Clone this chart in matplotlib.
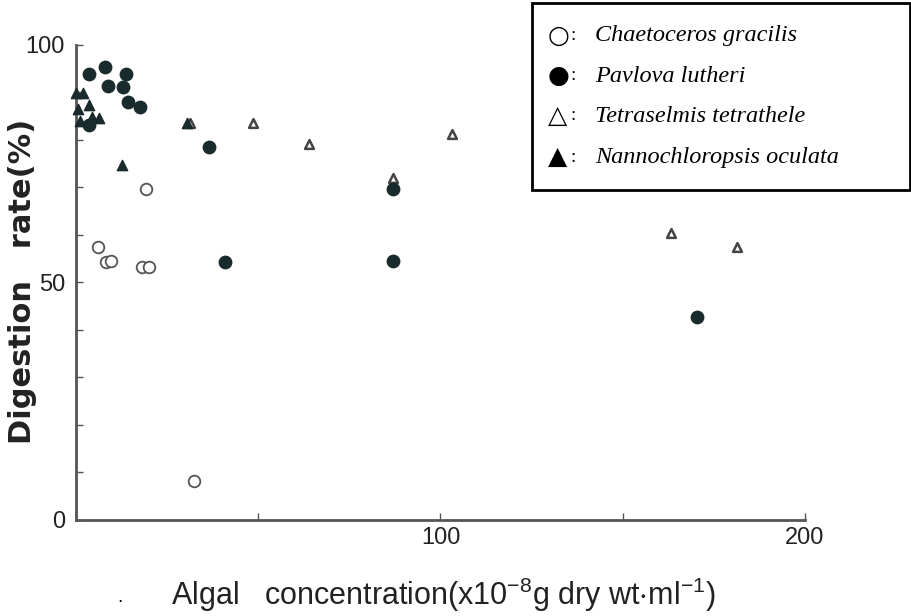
import matplotlib
matplotlib.use("Agg")
import matplotlib.pyplot as plt
from matplotlib.patches import Rectangle

# Chaetoceros gracilis (open circles)
chaeto_x = [19.1, 6.1, 8.2, 9.6, 18.0, 20.0, 32.3]
chaeto_y = [69.7, 57.4, 54.2, 54.5, 53.2, 53.3, 8.2]

# Pavlova lutheri (filled circles)
pavlova_x = [3.6, 8.0, 13.6, 8.9, 12.8, 14.2, 17.6, 3.6, 36.6, 41.0, 86.9, 86.9, 170.5]
pavlova_y = [93.9, 95.3, 93.9, 91.4, 91.2, 88.0, 87.0, 83.2, 78.5, 54.3, 69.6, 54.5, 42.8]

# Tetraselmis tetrathele (open triangles)
tetra_x = [31.3, 48.6, 63.9, 103.2, 86.9, 163.3, 181.4]
tetra_y = [83.6, 83.5, 79.2, 81.2, 71.9, 60.5, 57.5]

# Nannochloropsis oculata (filled triangles)
nanno_x = [0.0, 2.0, 0.6, 3.6, 1.1, 4.3, 6.3, 12.5, 30.5]
nanno_y = [89.8, 89.8, 86.5, 87.4, 84.0, 84.8, 84.6, 74.7, 83.6]

legend_symbols = ["\u25cb", "\u25cf", "\u25b3", "\u25b2"]
legend_names = ["Chaetoceros gracilis", "Pavlova lutheri",
                "Tetraselmis tetrathele", "Nannochloropsis oculata"]

x_ticks = [0, 50, 100, 150, 200]
x_labels = ["", "", "100", "", "200"]
y_ticks = list(range(0, 101, 10))
y_labels = ["0", "", "", "", "", "50", "", "", "", "", "100"]

plt.rcParams["mathtext.default"] = "regular"
axis_font = ["Liberation Sans", "DejaVu Sans"]

fig = plt.figure(figsize=(9.11, 6.16), dpi=100)
ax = fig.add_axes([0.0834, 0.156, 0.8002, 0.771])
ax.set_xlim(0, 200)
ax.set_ylim(0, 100)

ink = "#1a2b2e"
ax.scatter(chaeto_x, chaeto_y, s=70, marker="o", facecolors="white",
           edgecolors="#555555", linewidths=1.3, zorder=3, clip_on=False)
ax.scatter(tetra_x, tetra_y, s=40, marker="^", facecolors="white",
           edgecolors="#444444", linewidths=1.8, zorder=3, clip_on=False)
ax.scatter(nanno_x, nanno_y, s=55, marker="^", color=ink, zorder=4, clip_on=False)
ax.scatter(pavlova_x, pavlova_y, s=80, marker="o", color=ink, zorder=4, clip_on=False)

for side in ["top", "right"]:
    ax.spines[side].set_visible(False)
for side in ["left", "bottom"]:
    ax.spines[side].set_color("#555555")
    ax.spines[side].set_linewidth(2)

ax.set_xticks(x_ticks)
ax.set_xticklabels(x_labels)
ax.set_yticks(y_ticks)
ax.set_yticklabels(y_labels)
ax.tick_params(direction="in", length=5, width=1, color="#555555",
               labelsize=17, pad=5)
ax.tick_params(axis="y", pad=8)
for lab in ax.get_xticklabels() + ax.get_yticklabels():
    lab.set_family(axis_font)
    lab.set_color("#222222")

fig.text(0.025, 0.544, "Digestion   rate(%)", rotation=90, ha="center",
         va="center", fontsize=22, fontweight="bold", family="DejaVu Sans",
         color="#222222")
fig.text(0.487, 0.034, r"Algal   concentration(x10$^{-8}$g dry wt$\cdot$ml$^{-1}$)",
         ha="center", va="center", fontsize=22, family=axis_font, color="#222222")
fig.text(0.132, 0.03, ".", ha="center", va="center", fontsize=14, family=axis_font)

# legend box drawn in figure pixels
W, H = 911, 616
fig.patches.append(Rectangle((532 / W, 1 - 190 / H), 378 / W, 187 / H,
                             transform=fig.transFigure, fill=False,
                             edgecolor="black", linewidth=2))
row_y = [36, 76, 116, 157]
for sym, name, yy in zip(legend_symbols, legend_names, row_y):
    fig.text(548 / W, 1 - yy / H, sym, ha="left", va="center", fontsize=18,
             family="DejaVu Sans")
    fig.text(571 / W, 1 - yy / H, ":", ha="left", va="center", fontsize=14,
             family="Liberation Serif")
    fig.text(595 / W, 1 - yy / H, name, ha="left", va="center", fontsize=17.5,
             family="Liberation Serif", style="italic")

fig.savefig("out.png", dpi=100)
